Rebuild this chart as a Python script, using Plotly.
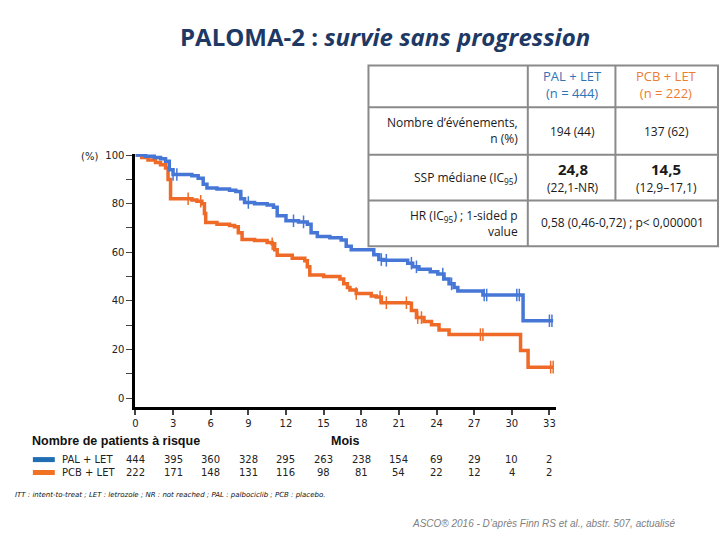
import numpy as np
import plotly.graph_objects as go

# ---------------- data ----------------
pal_t = [0, 0.8, 1.5, 2.0, 2.4, 2.7, 3.0, 4.5, 5.0, 5.4, 5.7, 6.5, 7.5, 8.0, 8.4, 8.7, 9.5, 10.5, 11.0, 11.3,
         12.0, 13.0, 13.7, 14.0, 14.5, 15.5, 16.4, 16.8, 17.2, 19.0, 19.4, 19.8, 21.7, 22.1, 22.6, 23.5, 24.1,
         24.6, 25.0, 25.4, 25.7, 27.7, 30.9, 33.3]
pal_s = [100, 99.5, 99, 98.5, 97.5, 94, 92, 91.5, 90.5, 88, 86.5, 86, 85.5, 85, 82, 80.5, 80, 79.5, 78.5, 75,
         73, 72.5, 71.5, 68, 66.5, 66, 65, 62.5, 61, 59, 57, 56.7, 55.5, 54, 53, 52, 51,
         49, 47, 45.5, 44.1, 42.4, 31.8, 31.8]
pcb_t = [0, 0.5, 1.0, 1.6, 2.0, 2.4, 2.6, 2.8, 4.5, 4.9, 5.3, 5.5, 5.6, 6.5, 7.5, 7.9, 8.2, 8.5, 9.5, 10.5,
         10.9, 11.1, 11.3, 12.5, 13.5, 13.7, 13.9, 15.0, 16.3, 16.6, 16.9, 17.1, 17.6, 18.8, 19.2, 19.6, 21.8,
         22.0, 22.4, 23.0, 23.6, 24.2, 25.0, 30.7, 31.3, 33.3]
pcb_s = [100, 99, 98, 97, 96, 94.7, 90, 82, 81.5, 81, 80, 76, 72.2, 71.5, 71, 70.5, 68, 65.3, 64.8, 64,
         63.5, 61, 58.8, 57.5, 56.5, 54, 50.6, 50, 49, 47, 45.5, 44.5, 43, 42, 41.6, 39.2, 39,
         36, 33.1, 31.5, 30.2, 28, 26.1, 19.6, 12.7, 12.7]
pal_cens = [3.0, 3.3, 9.0, 12.6, 13.4, 19.6, 20.0, 22.0, 22.4, 24.5, 25.2, 27.8, 28.0, 30.4, 30.6, 33.0, 33.2]
pcb_cens = [4.2, 5.2, 10.9, 17.6, 19.5, 20.0, 21.6, 22.5, 22.8, 27.5, 27.7, 33.1, 33.3]

months = [0, 3, 6, 9, 12, 15, 18, 21, 24, 27, 30, 33]
pal_risk = [444, 395, 360, 328, 295, 263, 238, 154, 69, 29, 10, 2]
pcb_risk = [222, 171, 148, 131, 116, 98, 81, 54, 22, 12, 4, 2]

y_ticks = [0, 20, 40, 60, 80, 100]

BLUE = "#4677D6"
ORANGE = "#EE6A26"
BLUE_D = "#1F6DB3"
ORANGE_D = "#F07222"
NAVY = "#203864"

W, H = 720, 540
def px(x): return x / W
def py(y): return 1 - y / H

def step_val(ts, ss, t):
    i = np.searchsorted(np.array(ts), t, side="right") - 1
    return ss[max(i, 0)]

fig = go.Figure()
for ts, ss, cens, col in [(pcb_t, pcb_s, pcb_cens, ORANGE), (pal_t, pal_s, pal_cens, BLUE)]:
    fig.add_trace(go.Scatter(x=ts, y=ss, mode="lines", line=dict(color=col, width=3.5, shape="hv"),
                             showlegend=False, hoverinfo="skip"))
    fig.add_trace(go.Scatter(x=cens, y=[step_val(ts, ss, c) for c in cens], mode="markers",
                             marker=dict(symbol="line-ns", size=9, color=col, line=dict(color=col, width=1.5)),
                             showlegend=False, hoverinfo="skip"))

tick_font = dict(family="DejaVu Sans", size=10, color="#222222")
fig.update_layout(
    width=W, height=H, margin=dict(l=0, r=0, t=0, b=0),
    paper_bgcolor="white", plot_bgcolor="white",
    xaxis=dict(domain=[px(133), px(555)], range=[0, 33.5], tickvals=months, ticks="outside", ticklen=5,
               tickwidth=1.5, showline=True, linecolor="black", linewidth=3, showgrid=False, zeroline=False,
               tickfont=tick_font, fixedrange=True),
    yaxis=dict(domain=[py(406), py(151)], range=[-3.7, 100.5], tickvals=y_ticks, ticks="outside", ticklen=6,
               tickwidth=1.2, showline=True, linecolor="black", linewidth=3, showgrid=False, zeroline=False,
               tickfont=tick_font, minor=dict(dtick=10, ticks="outside", ticklen=6, tickwidth=1.2, showgrid=False),
               fixedrange=True),
)

ann = []
def A(x, y, text, size=10, color="#222222", family="DejaVu Sans", xanchor="center", align="center", **kw):
    ann.append(dict(x=px(x), y=py(y), xref="paper", yref="paper", text=text, showarrow=False,
                    font=dict(family=family, size=size, color=color), xanchor=xanchor, yanchor="middle",
                    align=align, **kw))

# title
A(384, 33, "<b>PALOMA-2 : <i>survie sans progression</i></b>", size=24, color=NAVY, family="Open Sans")
A(87, 154, "(%)", size=10)

# table text
TF = "Open Sans"
TC = "#1a1a1a"
A(572, 81, "PAL + LET<br>(n = 444)", size=13, color="#2E75B6", family=TF)
A(666, 81, "PCB + LET<br>(n = 222)", size=13, color="#ED7D31", family=TF)
A(519, 127, "Nombre d’événements,<br>n (%)", size=12, family=TF, xanchor="right", align="right", color=TC)
A(572, 128, "194 (44)", size=12, family=TF, color=TC)
A(666, 128, "137 (62)", size=12, family=TF, color=TC)
A(519, 175, "SSP médiane (IC<sub>95</sub>)", size=12, family=TF, xanchor="right", align="right", color=TC)
A(572, 166, "<b>24,8</b>", size=15, family=TF, color=TC)
A(572, 185, "(22,1-NR)", size=12, family=TF, color=TC)
A(666, 166, "<b>14,5</b>", size=15, family=TF, color=TC)
A(666, 185, "(12,9–17,1)", size=12, family=TF, color=TC)
A(519, 221, "HR (IC<sub>95</sub>) ; 1-sided p<br>value", size=12, family=TF, xanchor="right", align="right", color=TC)
A(622, 220, "0,58 (0,46-0,72) ; p< 0,000001", size=12, family=TF, color=TC)

# risk table
A(27, 440, "<b>Nombre de patients à risque</b>", size=12.5, family="Liberation Sans", xanchor="left", color="#111111")
A(344, 440, "<b>Mois</b>", size=12.5, family="Liberation Sans", color="#111111")
A(57, 459, "PAL + LET", size=10, xanchor="left")
A(57, 472, "PCB + LET", size=10, xanchor="left")
for m, a, b in zip(months, pal_risk, pcb_risk):
    ann.append(dict(x=m, y=py(459), xref="x", yref="paper", text=str(a), showarrow=False,
                    font=tick_font, xanchor="center", yanchor="middle"))
    ann.append(dict(x=m, y=py(472), xref="x", yref="paper", text=str(b), showarrow=False,
                    font=tick_font, xanchor="center", yanchor="middle"))

A(10, 495, "<i>ITT : intent-to-treat ; LET : letrozole ; NR : not reached ; PAL : palbociclib ; PCB : placebo.</i>",
  size=7, xanchor="left", color="#111111")
A(678, 523, "<i>ASCO® 2016 - D’après Finn RS et al., abstr. 507, actualisé</i>", size=10,
  family="Liberation Sans", xanchor="right", color="#808080")
fig.update_layout(annotations=ann)

shapes = []
G = "#8A8A8A"
def L(x0, y0, x1, y1, color=G, width=2):
    shapes.append(dict(type="line", xref="paper", yref="paper", x0=px(x0), y0=py(y0), x1=px(x1), y1=py(y1),
                       line=dict(color=color, width=width), layer="above"))
shapes.append(dict(type="rect", xref="paper", yref="paper", x0=px(367), y0=py(62), x1=px(718), y1=py(244),
                   fillcolor="white", line=dict(color=G, width=2), layer="above"))
for yy in [104, 152, 198]:
    L(367, yy, 718, yy)
L(527, 62, 527, 244)
L(615, 62, 615, 198)
# risk swatches
L(30, 459, 52, 459, BLUE_D, 5)
L(30, 472, 52, 472, ORANGE_D, 5)
fig.update_layout(shapes=shapes)

fig.write_html("out.html", config={"displayModeBar": False},
               post_script="document.body.style.margin='0';document.body.style.overflow='hidden';")
